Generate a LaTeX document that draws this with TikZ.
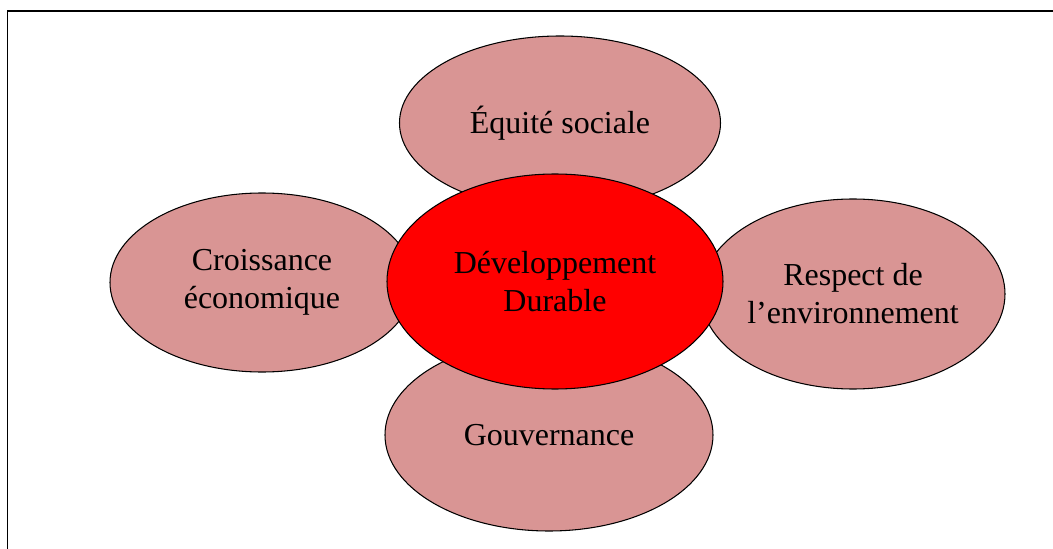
\documentclass[tikz,border=0pt]{standalone}
\usepackage{fontspec}
\setmainfont{Liberation Serif}
\usetikzlibrary{shapes.geometric}
\definecolor{petale}{HTML}{D99594}
\definecolor{coeur}{HTML}{FF0000}
\begin{document}
\begin{tikzpicture}[every node/.style={ellipse, draw, line width=0.6pt, fill=petale, inner sep=0pt, align=center, font=\fontsize{18.2}{21.6}\selectfont}]
        \useasboundingbox (0,0) rectangle (21.06,10.96);
        % Cadre
        \draw[line width=1.1pt] (0.15,-0.5) rectangle (21.6,10.74);

        % Les quatre piliers
        \node[minimum width=6.08cm, minimum height=3.58cm] (eco) at (5.24, 5.31) {Croissance\\économique};
        \node[minimum width=6.42cm, minimum height=3.48cm] (soc) at (11.20, 8.50) {Équité sociale};
        \node[minimum width=6.08cm, minimum height=3.80cm] (env) at (17.06, 5.08) {Respect de\\l’environnement};
        \node[minimum width=6.56cm, minimum height=3.84cm] (gouv) at (10.98, 2.26) {Gouvernance};

        % Le coeur
        \node[fill=coeur, minimum width=6.72cm, minimum height=4.30cm] (dd) at (11.10, 5.33) {Développement\\Durable};
    \end{tikzpicture}
\end{document}
